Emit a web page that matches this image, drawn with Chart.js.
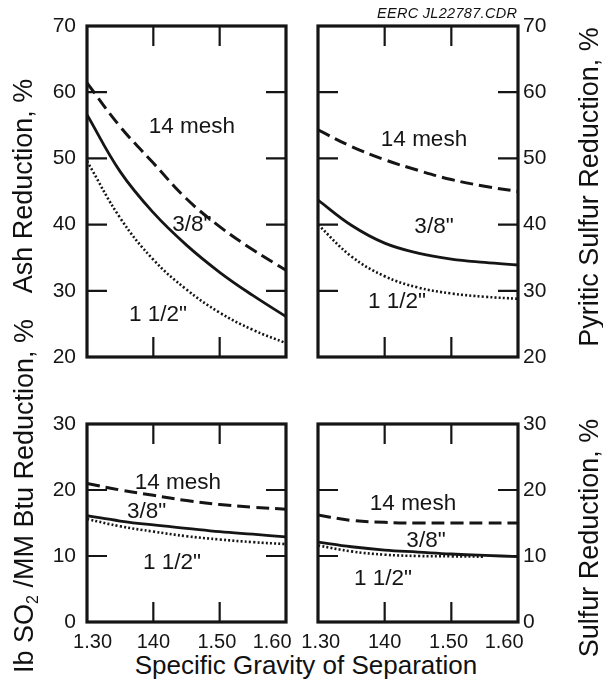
<!DOCTYPE html>
<html><head><meta charset="utf-8">
<script src="https://cdn.jsdelivr.net/npm/chart.js@4/dist/chart.umd.min.js"></script>
<style>
html,body{margin:0;padding:0;background:#fff;}
body{width:603px;height:683px;position:relative;overflow:hidden;font-family:"Liberation Sans",Arial,sans-serif;color:#111;}
canvas{position:absolute;}
.t{position:absolute;white-space:nowrap;font-size:27px;line-height:1;}
.rot{transform:translate(-50%,-50%) rotate(-90deg);}
.ctr{transform:translate(-50%,-50%);}
sub{font-size:16px;vertical-align:-5px;line-height:0;}
</style></head><body>
<canvas id="cAsh" width="320" height="370" style="left:0;top:0"></canvas>
<canvas id="cPyr" width="313" height="370" style="left:290px;top:0"></canvas>
<canvas id="cSO2" width="320" height="270" style="left:0;top:380px"></canvas>
<canvas id="cSul" width="313" height="270" style="left:290px;top:380px"></canvas>

<div class="t" style="left:377px;top:6px;font-size:14.5px;letter-spacing:0.3px;font-style:italic;">EERC JL22787.CDR</div>
<div class="t rot" style="left:23px;top:186px">Ash Reduction, %</div>
<div class="t rot" style="left:24px;top:496px">Ib SO<sub>2</sub> /MM Btu Reduction, %</div>
<div class="t rot" style="left:589px;top:187px">Pyritic Sulfur Reduction, %</div>
<div class="t rot" style="left:589px;top:538px">Sulfur Reduction, %</div>
<div class="t ctr" style="left:306px;top:665px;font-size:26px">Specific Gravity of Separation</div>

<script>
// ---- data ----
const gravity = [1.30, 1.35, 1.40, 1.45, 1.50, 1.55, 1.60];
const xTickLabels = ['1.30', '140', '1.50', '1.60'];
const seriesNames = ['14 mesh', '3/8"', '1 1/2"'];

const ash14mesh = [61.4, 54.8, 49.3, 43.9, 39.7, 36.2, 33.1];
const ash38in   = [56.6, 48.0, 41.8, 36.9, 32.8, 29.3, 26.1];
const ash112in  = [49.6, 41.0, 34.7, 30.2, 26.7, 24.1, 22.1];

const pyr14mesh = [54.3, 51.8, 49.8, 48.2, 46.8, 45.8, 45.0];
const pyr38in   = [43.7, 39.9, 37.2, 35.7, 34.8, 34.3, 33.9];
const pyr112in  = [40.0, 35.2, 32.2, 30.5, 29.6, 29.1, 28.8];

const so214mesh = [21.0, 20.0, 19.2, 18.4, 17.8, 17.4, 17.1];
const so238in   = [16.1, 15.3, 14.7, 14.2, 13.7, 13.3, 12.9];
const so2112in  = [15.6, 14.5, 13.7, 13.0, 12.5, 12.1, 11.8];

const sul14mesh = [16.2, 15.4, 15.1, 15.0, 15.0, 15.0, 15.0];
const sul38in   = [12.1, 11.4, 10.9, 10.6, 10.3, 10.1, 9.9];
const sul112in  = [11.6, 10.7, 10.2, 10.0, 9.95, 9.9];

// ---- drawing ----
const INK = '#151515';
const FONT = '"Liberation Sans", Arial, sans-serif';

function pts(vals){ return vals.map((v,i)=>({x: gravity[i], y: v})); }
// nudge a centred tick label sideways by padding it with spaces (n>0 right, n<0 left)
function nudge(text, n){ return n > 0 ? ' '.repeat(n) + text : text + ' '.repeat(-n); }

const panelPlugin = {
  id: 'panel',
  afterDatasetsDraw(chart, args, opts){
    const {ctx, chartArea:a} = chart;
    const xs = chart.scales.x, ys = chart.scales.y;
    ctx.save();
    // inward tick marks
    ctx.strokeStyle = INK; ctx.lineWidth = 2.2; ctx.lineCap = 'butt';
    ys.ticks.forEach(t=>{
      if (t.value <= ys.min + 1e-9 || t.value >= ys.max - 1e-9) return;
      const y = ys.getPixelForValue(t.value);
      ctx.beginPath(); ctx.moveTo(a.left, y); ctx.lineTo(a.left+20, y);
      ctx.moveTo(a.right-20, y); ctx.lineTo(a.right, y); ctx.stroke();
    });
    xs.ticks.forEach(t=>{
      if (t.value <= xs.min + 1e-9 || t.value >= xs.max - 1e-9) return;
      const x = xs.getPixelForValue(t.value);
      ctx.beginPath(); ctx.moveTo(x, a.top); ctx.lineTo(x, a.top+20);
      ctx.moveTo(x, a.bottom-20); ctx.lineTo(x, a.bottom); ctx.stroke();
    });
    // frame
    ctx.lineWidth = 3.2;
    ctx.strokeRect(a.left, a.top, a.right-a.left, a.bottom-a.top);
    // curve labels
    ctx.fillStyle = INK; ctx.font = '22.5px ' + FONT;
    ctx.textAlign = 'center'; ctx.textBaseline = 'middle';
    (opts.labels||[]).forEach(l=>{
      ctx.fillText(l.text, xs.getPixelForValue(l.x), ys.getPixelForValue(l.y));
    });
    ctx.restore();
  }
};

function makePanel(id, cfg){
  const dsStyle = [
    {borderDash:[13,6], borderWidth:3},
    {borderDash:[], borderWidth:2.8},
    {borderDash:[2,2.2], borderWidth:2.6}
  ];
  const datasets = cfg.series.map((s,i)=>Object.assign({
    label: seriesNames[i],
    data: pts(s),
    borderColor: INK,
    pointRadius: 0,
    fill: false,
    tension: 0.4,
    borderCapStyle: 'butt'
  }, dsStyle[i]));
  const right = cfg.yPos === 'right';
  const shifts = cfg.xShift || [0,0,0,0];
  return new Chart(document.getElementById(id), {
    type: 'line',
    data: { datasets },
    options: {
      responsive: false, animation: false, devicePixelRatio: 1,
      layout: { padding: cfg.padding },
      plugins: { legend:{display:false}, tooltip:{enabled:false}, panel:{labels: cfg.labels} },
      scales: {
        x: {
          type: 'linear', min: 1.30, max: 1.60,
          grid: { display:false, drawTicks:false },
          border: { display:false },
          ticks: {
            display: cfg.showX, stepSize: 0.1, padding: 8, maxRotation:0, autoSkip:false,
            color: INK, font: { family: FONT, size: 20 },
            callback: (v, i) => nudge(xTickLabels[i], shifts[i])
          },
          afterFit: s => { s.height = cfg.xH; s.paddingLeft = 0; s.paddingRight = 0; }
        },
        y: {
          type: 'linear', position: cfg.yPos, min: cfg.yMin, max: cfg.yMax,
          grid: { display:false, drawTicks:false },
          border: { display:false },
          ticks: { stepSize: 10, padding: right ? 5 : 11, color: INK, font: { family: FONT, size: 21 } },
          afterFit: s => { s.width = cfg.yW; s.paddingTop = 0; s.paddingBottom = 0; }
        }
      }
    },
    plugins: [panelPlugin]
  });
}

// Ash (top-left): chart area x 87..286, y 26..357
makePanel('cAsh', {
  series: [ash14mesh, ash38in, ash112in], yMin:20, yMax:70, yPos:'left',
  yW: 87, xH: 13, showX:false, padding:{top:26, right:34, left:0, bottom:0},
  labels: [{text:seriesNames[0], x:1.458, y:54.7},{text:seriesNames[1], x:1.458, y:40.0},{text:seriesNames[2], x:1.407, y:26.3}]
});
// Pyritic (top-right): chart area x 318..518
makePanel('cPyr', {
  series: [pyr14mesh, pyr38in, pyr112in], yMin:20, yMax:70, yPos:'right',
  yW: 85, xH: 13, showX:false, padding:{top:26, right:0, left:28, bottom:0},
  labels: [{text:seriesNames[0], x:1.459, y:52.8},{text:seriesNames[1], x:1.474, y:39.7},{text:seriesNames[2], x:1.4185, y:28.3}]
});
// SO2 (bottom-left): chart area y 424..622
makePanel('cSO2', {
  series: [so214mesh, so238in, so2112in], yMin:0, yMax:30, yPos:'left',
  yW: 87, xH: 28, showX:true, padding:{top:44, right:34, left:0, bottom:0},
  xShift: [2, 0, -1, -5],
  labels: [{text:seriesNames[0], x:1.437, y:21.1},{text:seriesNames[1], x:1.390, y:16.7},{text:seriesNames[2], x:1.428, y:8.9}]
});
// Sulfur (bottom-right)
makePanel('cSul', {
  series: [sul14mesh, sul38in, sul112in], yMin:0, yMax:30, yPos:'right',
  yW: 85, xH: 28, showX:true, padding:{top:44, right:0, left:28, bottom:0},
  xShift: [1, 0, -1, -5],
  labels: [{text:seriesNames[0], x:1.4425, y:17.9},{text:seriesNames[1], x:1.462, y:12.3},{text:seriesNames[2], x:1.3975, y:6.5}]
});
</script>
</body></html>
